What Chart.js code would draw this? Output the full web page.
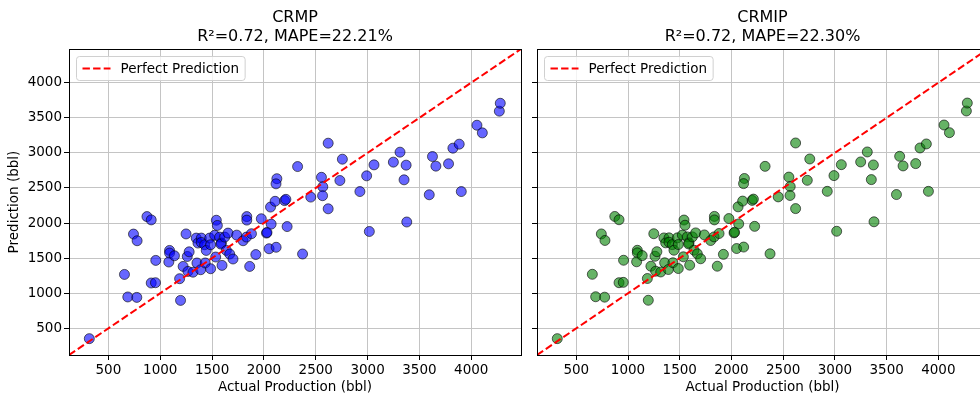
<!DOCTYPE html>
<html>
<head>
<meta charset="utf-8">
<script src="https://cdn.jsdelivr.net/npm/chart.js@4.4.1/dist/chart.umd.min.js"></script>
<style>
  html, body { margin: 0; padding: 0; background: #fff; }
  #wrap { position: relative; width: 980px; height: 397px; overflow: hidden; }
  #c1 { position: absolute; left: 0; top: 0; }
  #c2 { position: absolute; left: 527px; top: 0; }
</style>
</head>
<body>
<div id="wrap">
  <canvas id="c1" width="530" height="397"></canvas>
  <canvas id="c2" width="470" height="397"></canvas>
</div>
<script>
// actual production (bbl), shared by both models
const actual = [316, 655, 687, 774, 742, 777, 872, 913, 913, 954,
  957, 1090, 1090, 1083, 1137, 1196, 1187, 1221, 1267, 1316,
  1249, 1261, 1279, 1347, 1364, 1396, 1396, 1428, 1444, 1354,
  1390, 1434, 1486, 1477, 1486, 1525, 1541, 1551, 1535, 1573,
  1590, 1585, 1596, 1622, 1654, 1638, 1670, 1702, 1738, 1799,
  1832, 1880, 1835, 1835, 1922, 1863, 1975, 2025, 2070, 2050,
  2118, 2064, 2108, 2200, 2212, 2125, 2117, 2224, 2030, 2373,
  2325, 2452, 2555, 2568, 2566, 2620, 2620, 2757, 2733, 2926,
  2991, 3017, 3062, 3249, 3313, 3372, 3352, 3378, 3595, 3626,
  3659, 3781, 3823, 3884, 3904, 4055, 4107, 4271, 4280];

// CRMP predictions
const crmpPred = [353, 1268, 947, 941, 1843, 1748, 2092, 2045, 1146, 1150,
  1468, 1610, 1573, 1445, 1534, 898, 1207, 1382, 1311, 1300,
  1845, 1524, 1590, 1786, 1715, 1786, 1724, 1691, 1610, 1431,
  1335, 1431, 1349, 1786, 1691, 1826, 2040, 1966, 1516, 1800,
  1715, 1700, 1397, 1800, 1857, 1610, 1559, 1488, 1828, 1748,
  1800, 1848, 2092, 2042, 1551, 1382, 2061, 1857, 1985, 1634,
  1655, 2228, 2310, 2320, 2338, 2632, 2559, 1950, 1866, 1559,
  2805, 2370, 2652, 2517, 2390, 2203, 3138, 2910, 2606, 2449,
  2673, 1880, 2829, 2868, 3010, 2825, 2616, 2015, 2403, 2948,
  2811, 2844, 3067, 3124, 2449, 3394, 3285, 3594, 3707];

// CRMIP predictions
const crmipPred = [353, 1270, 950, 944, 1845, 1752, 2094, 2047, 1150, 1155,
  1470, 1612, 1576, 1448, 1536, 900, 1210, 1385, 1314, 1303,
  1848, 1527, 1592, 1788, 1718, 1789, 1727, 1693, 1613, 1434,
  1338, 1434, 1352, 1789, 1694, 1829, 2043, 1969, 1519, 1803,
  1718, 1703, 1400, 1803, 1860, 1613, 1562, 1491, 1831, 1751,
  1803, 1851, 2095, 2045, 1554, 1385, 2064, 1860, 1988, 1637,
  1658, 2231, 2313, 2323, 2341, 2635, 2562, 1953, 1869, 1562,
  2808, 2373, 2655, 2520, 2393, 2206, 3141, 2913, 2609, 2452,
  2676, 1883, 2832, 2871, 3013, 2828, 2619, 2018, 2406, 2951,
  2814, 2847, 3070, 3127, 2452, 3397, 3288, 3597, 3710];

const xTicks = [500, 1000, 1500, 2000, 2500, 3000, 3500, 4000];
const yTicks = [500, 1000, 1500, 2000, 2500, 3000, 3500, 4000];
const axisMin = 120;
const axisMax = 4480;

const FONT = "'DejaVu Sans', sans-serif";
const FS = 13.5;

const framePlugin = {
  id: 'frame',
  afterDraw(chart, args, opts) {
    const ctx = chart.ctx;
    const ca = chart.chartArea;
    ctx.save();
    // spines
    ctx.strokeStyle = '#000';
    ctx.lineWidth = 1;
    ctx.strokeRect(Math.round(ca.left) + 0.5, Math.round(ca.top) + 0.5,
      Math.round(ca.right - ca.left), Math.round(ca.bottom - ca.top));
    // titles
    const cx = (ca.left + ca.right) / 2;
    ctx.fillStyle = '#000';
    ctx.font = '16px ' + FONT;
    ctx.textAlign = 'center';
    ctx.textBaseline = 'middle';
    ctx.fillText(opts.title1, cx, 18);
    ctx.fillText(opts.title2, cx, 37);
    // legend
    const label = chart.data.datasets[0].label;
    ctx.font = FS + 'px ' + FONT;
    const tw = ctx.measureText(label).width;
    const bx = ca.left + 7.5, by = ca.top + 7.5, bw = 44 + tw + 6, bh = 24;
    ctx.fillStyle = 'rgba(255,255,255,0.8)';
    ctx.strokeStyle = '#d0d0d0';
    ctx.beginPath();
    ctx.roundRect(bx, by, bw, bh, 3);
    ctx.fill();
    ctx.stroke();
    ctx.strokeStyle = 'red';
    ctx.lineWidth = 2;
    ctx.setLineDash([7.4, 3.2]);
    ctx.beginPath();
    ctx.moveTo(bx + 6, by + bh / 2);
    ctx.lineTo(bx + 34, by + bh / 2);
    ctx.stroke();
    ctx.setLineDash([]);
    ctx.fillStyle = '#000';
    ctx.textAlign = 'left';
    ctx.fillText(label, bx + 44, by + bh / 2 + 1);
    ctx.restore();
  }
};

function makeChart(id, pred, fill, t1, t2, showY) {
  const pts = actual.map((a, i) => ({ x: a, y: pred[i] }));
  return new Chart(document.getElementById(id), {
    type: 'scatter',
    data: {
      datasets: [
        {
          type: 'line',
          label: 'Perfect Prediction',
          data: [{ x: axisMin, y: axisMin }, { x: axisMax, y: axisMax }],
          borderColor: 'red',
          borderWidth: 2,
          borderDash: [7.4, 3.2],
          pointRadius: 0,
          fill: false,
          order: 0
        },
        {
          label: t1,
          data: pts,
          backgroundColor: fill,
          borderColor: 'rgba(0,0,0,0.6)',
          borderWidth: 1,
          pointRadius: 5,
          order: 1
        }
      ]
    },
    options: {
      responsive: false,
      animation: false,
      layout: { padding: { top: 49, right: 9, left: 0, bottom: 0 } },
      plugins: {
        legend: { display: false },
        tooltip: { enabled: false },
        frame: { title1: t1, title2: t2 }
      },
      scales: {
        x: {
          type: 'linear',
          min: axisMin,
          max: axisMax,
          afterBuildTicks: s => { s.ticks = xTicks.map(v => ({ value: v })); },
          afterFit: s => { s.height = 42; },
          grid: { color: '#c4c4c4', lineWidth: 1, tickColor: '#000', tickLength: 5 },
          border: { display: true, color: '#000' },
          ticks: { color: '#000', font: { family: FONT, size: FS }, padding: 2, maxRotation: 0,
            callback: v => String(v) },
          title: { display: true, text: 'Actual Production (bbl)', color: '#000',
            font: { family: FONT, size: FS }, padding: { top: 0, bottom: 1 } }
        },
        y: {
          type: 'linear',
          min: axisMin,
          max: axisMax,
          afterBuildTicks: s => { s.ticks = yTicks.map(v => ({ value: v })); },
          afterFit: s => { s.width = showY ? 69 : 10; },
          grid: { color: '#c4c4c4', lineWidth: 1, tickColor: '#000', tickLength: 5 },
          border: { display: true, color: '#000' },
          ticks: { display: showY, color: '#000', font: { family: FONT, size: FS }, padding: 2,
            callback: v => String(v) },
          title: { display: showY, text: 'Prediction (bbl)', color: '#000',
            font: { family: FONT, size: FS }, padding: { top: 6, bottom: 6 } }
        }
      }
    },
    plugins: [framePlugin]
  });
}

makeChart('c1', crmpPred, 'rgba(0,0,255,0.6)', 'CRMP', 'R\u00b2=0.72, MAPE=22.21%', true);
makeChart('c2', crmipPred, 'rgba(0,128,0,0.6)', 'CRMIP', 'R\u00b2=0.72, MAPE=22.30%', false);
</script>
</body>
</html>
